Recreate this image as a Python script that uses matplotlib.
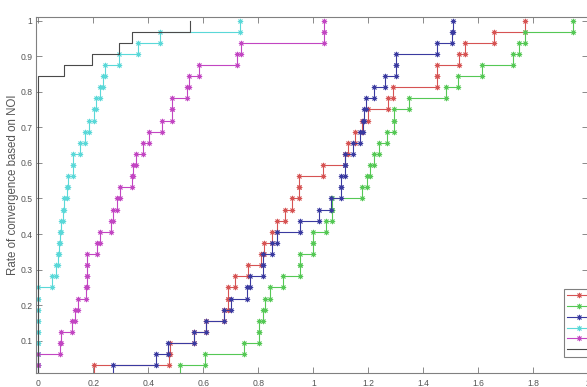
import numpy as np
import matplotlib
matplotlib.use("Agg")
import matplotlib.pyplot as plt

plt.rcParams['font.family'] = ['Liberation Sans', 'DejaVu Sans']

# ---- data: sorted sample values (32 runs each); ECDF is drawn from these ----
red_vals = [0.203, 0.475, 0.480, 0.565, 0.610, 0.675, 0.691, 0.691,
            0.714, 0.764, 0.810, 0.820, 0.849, 0.867, 0.897, 0.921,
            0.949, 0.949, 1.034, 1.115, 1.127, 1.150, 1.176, 1.200,
            1.270, 1.291, 1.449, 1.449, 1.531, 1.552, 1.657, 1.770]
green_vals = [0.516, 0.607, 0.749, 0.803, 0.803, 0.816, 0.825, 0.843,
              0.891, 0.952, 0.952, 1.000, 1.000, 1.046, 1.067, 1.067,
              1.176, 1.194, 1.206, 1.219, 1.240, 1.267, 1.295, 1.295,
              1.349, 1.483, 1.528, 1.612, 1.725, 1.748, 1.770, 1.943]
blue_vals = [0.273, 0.427, 0.473, 0.567, 0.610, 0.675, 0.700, 0.758,
             0.770, 0.818, 0.818, 0.849, 0.867, 0.952, 1.022, 1.064,
             1.101, 1.101, 1.115, 1.115, 1.146, 1.170, 1.182, 1.185,
             1.192, 1.222, 1.262, 1.301, 1.301, 1.449, 1.503, 1.509]
cyan_vals = [0, 0, 0, 0, 0, 0, 0, 0,
             0.051, 0.064, 0.070, 0.074, 0.078, 0.082, 0.088, 0.095,
             0.103, 0.109, 0.127, 0.127, 0.152, 0.170, 0.183, 0.204,
             0.210, 0.226, 0.234, 0.243, 0.293, 0.362, 0.443, 0.735]
magenta_vals = [0, 0, 0.079, 0.083, 0.121, 0.133, 0.145, 0.172,
                0.178, 0.178, 0.178, 0.212, 0.224, 0.263, 0.273, 0.285,
                0.297, 0.340, 0.346, 0.355, 0.380, 0.404, 0.449, 0.485,
                0.485, 0.540, 0.547, 0.585, 0.721, 0.736, 1.040, 1.040]
black_vals = [0] * 27 + [0.093, 0.194, 0.294, 0.341, 0.553]

x_ticks = [0, 0.2, 0.4, 0.6, 0.8, 1, 1.2, 1.4, 1.6, 1.8, 2]
x_tick_labels = ['0', '0.2', '0.4', '0.6', '0.8', '1', '1.2', '1.4', '1.6', '1.8', '2']
y_ticks = [0.1, 0.2, 0.3, 0.4, 0.5, 0.6, 0.7, 0.8, 0.9, 1]
y_tick_labels = ['0.1', '0.2', '0.3', '0.4', '0.5', '0.6', '0.7', '0.8', '0.9', '1']
y_label = 'Rate of convergence based on NOI'

# ---- styles ----
colors = ['#d65353', '#55c855', '#3a3aa0', '#5ad8d8', '#c245c2', '#4a4a4a']
markers = [(8, 2, 0)] * 5 + [None]


def ecdf_vertices(vals):
    v = np.sort(np.asarray(vals, dtype=float))
    n = len(v)
    xs, ys = [v[0]], [0.0]
    for i, xv in enumerate(v):
        if i > 0:
            xs.append(xv)
            ys.append(i / n)
        xs.append(xv)
        ys.append((i + 1) / n)
    return np.array(xs), np.array(ys)


fig = plt.figure(figsize=(5.87, 3.87), dpi=100)
ax = fig.add_axes([0.0608, 0.037, 0.9414, 0.9183])

all_vals = [red_vals, green_vals, blue_vals, cyan_vals, magenta_vals, black_vals]
handles = []
for vals, c, m in zip(all_vals, colors, markers):
    xs, ys = ecdf_vertices(vals)
    h, = ax.plot(xs, ys, color=c, lw=0.8, marker=m, ms=3.8, mew=0.6)
    handles.append(h)

ax.set_xlim(-0.0095, 2.0)
ax.set_ylim(0.0105, 1.009)
ax.set_xticks(x_ticks)
ax.set_xticklabels(x_tick_labels)
ax.set_yticks(y_ticks)
ax.set_yticklabels(y_tick_labels)
ax.tick_params(direction='in', length=4, width=0.6, top=True, right=True,
               labelsize=6.2, colors='#777777', labelcolor='#555555')
ax.tick_params(axis='x', pad=4.5)
ax.tick_params(axis='y', pad=2.4)
for s in ax.spines.values():
    s.set_color('#808080')
    s.set_linewidth(0.8)

fig.text(13 / 587, 1 - 185 / 387, y_label, rotation=90, ha='center',
         va='center', fontsize=8.3, color='#555555')

# legend labels are outside the visible area in the reference
leg = ax.legend(handles, [''] * len(handles), loc='upper left',
                bbox_to_anchor=(564.3 / 587, 1 - 289.3 / 387),
                bbox_transform=fig.transFigure, fontsize=6, handlelength=2.9,
                borderpad=0.35, labelspacing=0.36, borderaxespad=0,
                fancybox=False, framealpha=1, edgecolor='#808080')
leg.get_frame().set_linewidth(0.8)

fig.savefig('out.png', dpi=100, facecolor='white')
